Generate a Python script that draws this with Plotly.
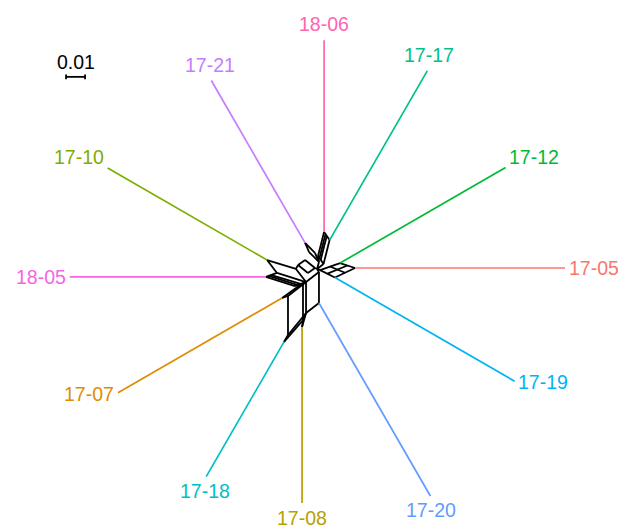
import numpy as np
import plotly.graph_objects as go

# Tips in circular (equal-angle) order, counter-clockwise from 0 degrees
taxa = ["17-05", "17-12", "17-17", "18-06", "17-21", "17-10",
        "18-05", "17-07", "17-18", "17-08", "17-20", "17-19"]
# Terminal branch lengths (substitutions per site)
pendant_length = [0.1105, 0.1006, 0.1028, 0.1010, 0.0987, 0.0969,
                  0.1032, 0.0997, 0.0819, 0.0926, 0.1173, 0.1092]
# Core node each terminal branch hangs from
pendant_node = ["R", "G", "n2", "n1", "n7", "n16",
                "n20", "n30", "b3", "b5", "n29", "C"]

# Colour per sample (alphabetical hue palette)
sample_order = ["17-05", "17-07", "17-08", "17-10", "17-12", "17-17",
                "17-18", "17-19", "17-20", "17-21", "18-05", "18-06"]
sample_colour = ["#F8766D", "#DE8C00", "#B79F00", "#7CAE00", "#00BA38", "#00C08B",
                 "#00BFC4", "#00B4F0", "#619CFF", "#C77CFF", "#F564E3", "#FF64B0"]

# Reticulate core of the split network (coordinates in units of 1e-3 subst./site)
node_id = ["H", "n1", "n2", "n3", "n4", "n5", "n6", "t1", "t2", "n7", "n8", "n10", "n11",
           "n12", "n13", "n14", "n15", "n16", "n17", "n18", "n19", "n20", "n21",
           "n22", "n23", "n25", "n26", "n24", "n28", "n29", "n30", "n31",
           "b1", "b2", "b3", "b4", "b5", "K", "G", "R", "C", "m1", "m2", "m3", "m4"]
node_x = [-0.5, 3.2, 6.1, 0.0, 2.9, 4.6, 1.4, 3.9, 0.7, -6.8, -4.7, -1.6, 0.5,
          -10.5, -6.8, -1.6, -5.3, -26.8, -11.6, -21.6, -6.3, -27.4, -12.1,
          -24.5, -9.2, -25.9, -10.6, -7.9, 0.5, 0.5, -18.9, -15.8,
          -7.9, -6.3, -17.9, -15.8, -8.4, 1.1, 11.6, 19.5, 8.9, 6.3, 14.2, 5.0, 15.5]
node_y = [-0.5, 18.9, 14.7, 6.3, 2.1, 16.8, 4.2, 17.6, 5.0, 13.2, 8.4, 7.9, 3.2,
          1.6, 4.2, 0.0, -2.6, 4.2, -0.5, -2.6, -7.4, -4.7, -9.5,
          -3.7, -8.4, -4.2, -9.0, -7.9, -2.1, -18.4, -15.8, -14.7,
          -27.4, -23.7, -38.9, -35.3, -31.1, -1.1, 2.6, 0.0, -5.0, 0.8, -2.5, -3.0, 1.3]
core_edges = [
    ("n1", "n2"), ("n1", "n3"), ("n2", "n4"), ("n3", "n4"), ("n5", "n6"), ("t1", "t2"),
    ("n3", "n11"), ("n4", "H"), ("n11", "H"),
    ("n7", "n8"), ("n7", "n10"), ("n8", "n11"), ("n10", "n11"),
    ("n12", "n13"), ("n13", "n14"), ("n14", "n15"), ("n15", "n12"), ("n14", "H"),
    ("n16", "n17"), ("n16", "n18"), ("n17", "n19"), ("n18", "n19"), ("n17", "n12"),
    ("n20", "n18"), ("n20", "n21"), ("n21", "n19"), ("n22", "n23"), ("n25", "n26"),
    ("n19", "n24"), ("n24", "b1"), ("n19", "b2"), ("b2", "n29"),
    ("n19", "n28"), ("n28", "n29"), ("n28", "H"),
    ("n30", "n31"), ("n30", "n24"), ("n31", "n19"), ("n31", "b4"),
    ("b1", "b2"), ("b1", "b3"), ("b2", "b4"), ("b3", "b4"), ("b1", "b5"), ("b2", "b5"),
    ("K", "G"), ("G", "R"), ("R", "C"), ("C", "K"), ("m1", "m2"), ("m3", "m4"),
    ("K", "H"),
]

SCALE_BAR = 0.01
FONT = "Liberation Sans, Arial, sans-serif"
FONT_SIZE = 19.5

pos = {n: (x * 1e-3, y * 1e-3) for n, x, y in zip(node_id, node_x, node_y)}
colour_of = dict(zip(sample_order, sample_colour))

fig = go.Figure()

# core network
ex, ey = [], []
for a, b in core_edges:
    ex += [pos[a][0], pos[b][0], None]
    ey += [pos[a][1], pos[b][1], None]
fig.add_trace(go.Scatter(x=ex, y=ey, mode="lines",
                         line=dict(color="black", width=1.8),
                         hoverinfo="skip"))

# terminal branches and tip labels
n = len(taxa)
for k, (name, length, node) in enumerate(zip(taxa, pendant_length, pendant_node)):
    ang = np.deg2rad(360.0 * k / n)
    c, s = np.cos(ang), np.sin(ang)
    x0, y0 = pos[node]
    x1, y1 = x0 + length * c, y0 + length * s
    col = colour_of[name]
    fig.add_trace(go.Scatter(x=[x0, x1], y=[y0, y1], mode="lines",
                             line=dict(color=col, width=1.7),
                             hoverinfo="skip"))
    yshift = 0
    if abs(c) > 0.8:
        xa, ya = ("left" if c > 0 else "right"), "middle"
        off = 0.001
        if s > 0.3:
            yshift = 10
    elif s > 0:
        xa, ya, off = "center", "bottom", 0.0018
    else:
        xa, ya, off = "center", "top", 0.0008
    fig.add_annotation(x=x1 + off * c, y=y1 + off * s, text=name,
                       showarrow=False, xanchor=xa, yanchor=ya, yshift=yshift,
                       font=dict(family=FONT, size=FONT_SIZE, color=col))

# scale bar
sx0, sy = -0.1326, 0.1006
tick = 0.0013
fig.add_trace(go.Scatter(
    x=[sx0, sx0 + SCALE_BAR, None, sx0, sx0, None, sx0 + SCALE_BAR, sx0 + SCALE_BAR],
    y=[sy, sy, None, sy - tick, sy + tick, None, sy - tick, sy + tick],
    mode="lines", line=dict(color="black", width=1.8), hoverinfo="skip"))
fig.add_annotation(x=sx0 + SCALE_BAR / 2, y=sy + 0.0008, text=f"{SCALE_BAR:g}",
                   showarrow=False, xanchor="center", yanchor="bottom",
                   font=dict(family=FONT, size=FONT_SIZE, color="black"))

fig.update_layout(
    width=618, height=528,
    margin=dict(l=0, r=0, t=0, b=0),
    paper_bgcolor="white", plot_bgcolor="white",
    showlegend=False,
    xaxis=dict(range=[-0.16737, 0.15789], visible=False, fixedrange=True),
    yaxis=dict(range=[-0.13684, 0.14105], visible=False, fixedrange=True),
)

fig.write_html("out.html")
